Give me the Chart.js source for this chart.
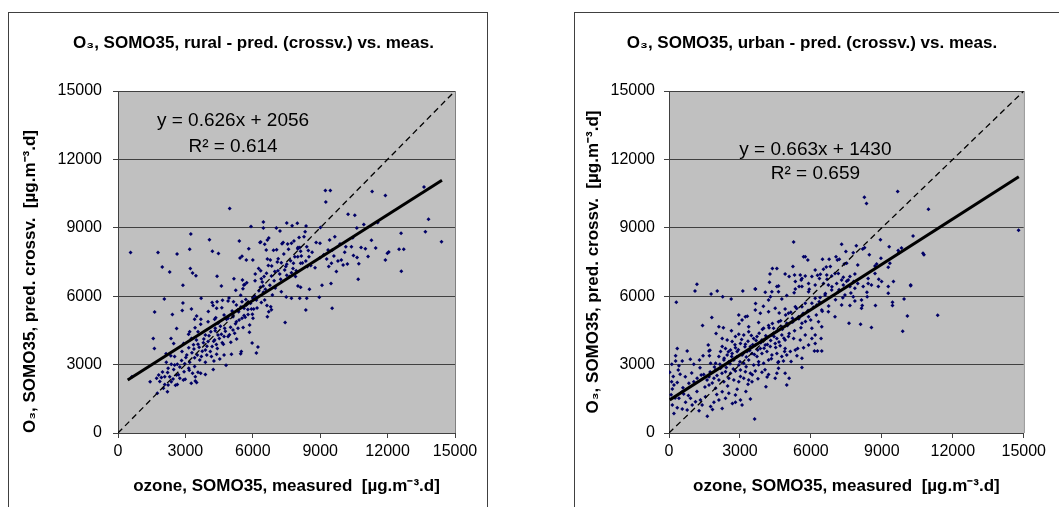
<!DOCTYPE html>
<html>
<head>
<meta charset="utf-8">
<script src="https://cdn.jsdelivr.net/npm/chart.js@4.4.0/dist/chart.umd.min.js"></script>
<style>
  body { margin: 0; background: #fff; width: 1059px; height: 507px; overflow: hidden; position: relative; }
  .frame { position: absolute; top: 12px; height: 520px; border: 1px solid #404040; }
  #ruralFrame { left: 8px; width: 478px; }
  #urbanFrame { left: 574px; width: 520px; }
  canvas { position: absolute; top: 12px; }
  #rural { left: 8px; }
  #urban { left: 574px; }
</style>
</head>
<body>
<div class="frame" id="ruralFrame"></div>
<div class="frame" id="urbanFrame"></div>
<canvas id="rural" width="491" height="495"></canvas>
<canvas id="urban" width="476" height="495"></canvas>
<script>
// measured vs. cross-validated prediction, SOMO35 [µg.m-3.d]
const ruralPoints = [
  [4970, 9850], [9230, 10640], [9450, 10640], [9250, 10130], [11310, 10590], [11900, 10420], [13620, 10790],
  [6470, 9250], [6470, 8990], [5920, 9060], [7510, 9210], [7750, 9090], [7980, 9200], [8370, 9080],
  [7050, 8990], [7210, 8860], [10240, 9590], [10540, 9550], [10940, 9150], [10630, 8990], [11560, 9230],
  [3240, 8730], [4070, 8480], [3190, 8060], [4200, 7970], [4470, 7870], [2630, 7850], [1780, 7920],
  [560, 7920], [1970, 7280], [2300, 7060], [3220, 7220], [3320, 7020], [3470, 6900], [4410, 6870],
  [2890, 6480], [4600, 6450], [5400, 8420], [5820, 8080], [5430, 7680], [5520, 7750], [5710, 7590],
  [6000, 7590], [5160, 6770], [5540, 6710], [5730, 6590], [5640, 6510], [6320, 8350], [6350, 8380],
  [6530, 8280], [6650, 8470], [6710, 8550], [6600, 8030], [6920, 8010], [7060, 8040], [7300, 8300],
  [7350, 8350], [7550, 8290], [7720, 8320], [8000, 8080], [8010, 8140], [8090, 8140], [8130, 7970],
  [8280, 8610], [8400, 8170], [8470, 8000], [6650, 7630], [6780, 7590], [6690, 7350], [7090, 7500],
  [7270, 7470], [7510, 7400], [7810, 7440], [7870, 7730], [8000, 7730], [8160, 7760], [8130, 7440],
  [8360, 7540], [8500, 7730], [8430, 7300], [8580, 7350], [8770, 7250], [6260, 7220], [6350, 7120],
  [6500, 6860], [6110, 6970], [6100, 6680], [6380, 6770], [6830, 6890], [6950, 6680], [7120, 7120],
  [7200, 6970], [7420, 7150], [7510, 6920], [7720, 7030], [7790, 7220], [7630, 6860], [7900, 6860],
  [8990, 8320], [9650, 8610], [9350, 8030], [9540, 8030], [8990, 7690], [9290, 7630], [9380, 7300],
  [9500, 7440], [9720, 7080], [9790, 7540], [9940, 7590], [10020, 7370], [10210, 7410], [10140, 8170],
  [10390, 8170], [10480, 7790], [10640, 7700], [10820, 8140], [11010, 8080], [11280, 8450], [10690, 6740],
  [11900, 7590], [11990, 7880], [12050, 7940], [12510, 8060], [12720, 8060], [12600, 8760], [13680, 8830],
  [13820, 9370], [14400, 8390], [12610, 7090], [9480, 6560], [9080, 6480], [8010, 6450], [8130, 6390],
  [8520, 6300], [7000, 6360], [6460, 6450], [6340, 6390], [5600, 6490],
  [2060, 5880], [1630, 5310], [2890, 5700], [2860, 5370], [3270, 5440], [3700, 5910], [2420, 5200],
  [2610, 4580], [1570, 4140], [1620, 3710], [2360, 4150], [2480, 3930], [4190, 5720], [4410, 5760],
  [4650, 5820], [4230, 5590], [4390, 5470], [4900, 5790], [5140, 5760], [5460, 6040], [5520, 5760],
  [5270, 5610], [5080, 5350], [5370, 5320], [5610, 5470], [5710, 5610], [5820, 5730], [5940, 5440],
  [6040, 5440], [6160, 5830], [6010, 5910], [6470, 6170], [6530, 5830], [6630, 5590], [6800, 5540],
  [6870, 6050], [6710, 5320], [6650, 5100], [6830, 5410], [7270, 6200], [7490, 5970], [7720, 5910],
  [8090, 5910], [8360, 5400], [8400, 5910], [8960, 5950], [9530, 5470], [7440, 4850], [3500, 5130],
  [3410, 4990], [3680, 4770], [4010, 4880], [4300, 4990], [4450, 4810], [4720, 5180], [4900, 5030],
  [5120, 5100], [5270, 4880], [5520, 5030], [5610, 5150], [5790, 5200], [5860, 4740], [6010, 5030],
  [5850, 4420], [5340, 4590], [5120, 4520], [4750, 4590], [3190, 4440], [3560, 4440], [3270, 4150],
  [3490, 4080], [3890, 4300], [4130, 4440], [4330, 4590], [4450, 4300], [4600, 4330], [4720, 4230],
  [4900, 4230], [4300, 4080], [4010, 4010], [3800, 3960], [3560, 3890], [3150, 3740], [3380, 3680],
  [3890, 3640], [4190, 3790], [4420, 3710], [4690, 3890], [5020, 3980], [5280, 4120], [5970, 3950],
  [6230, 3770], [6160, 3510], [5490, 3570], [5460, 3480], [5050, 3450], [4720, 3420], [4390, 3450],
  [4160, 3350], [3950, 3420], [2140, 3480], [2350, 3390], [2520, 3350], [2850, 3570], [3060, 3420],
  [3410, 3300], [3710, 3350], [3640, 3200], [3890, 3100], [4270, 3160], [4530, 3250], [4810, 2970],
  [4240, 2790], [2520, 2980], [2640, 3010], [2750, 2890], [2970, 3040], [3190, 3100], [3150, 2840],
  [2940, 2690], [3410, 2920], [3320, 2620], [3440, 2470], [3680, 2620], [3890, 2570], [3560, 2660],
  [2150, 3100], [2370, 3010], [2230, 2840], [1810, 2540], [1720, 2400], [1930, 2430], [2080, 2470],
  [2300, 2470], [2450, 2370], [2600, 2540], [2750, 2400], [2910, 2320], [2640, 2130], [2370, 2250],
  [2230, 2110], [2080, 2130], [2200, 1810], [2020, 1960], [1750, 1740], [1430, 2250], [620, 2470],
  [3440, 2280], [3500, 2220],
  [2210, 2650], [2480, 2790], [2690, 2560], [2830, 3180], [3020, 3310], [3170, 2750], [3290, 3520],
  [3360, 3870], [3530, 3420], [3610, 3760], [3750, 3590], [3820, 4120], [3960, 3800], [4050, 4270],
  [4110, 3580], [4260, 4020], [4330, 4490], [4380, 3880], [4510, 4140], [4560, 4680], [4640, 3960],
  [4780, 4460], [4830, 4990], [4960, 4310], [5010, 4640], [5090, 5210], [5190, 4380], [5230, 4790],
  [5330, 5390], [5390, 4960], [5470, 5530], [5570, 4630], [5660, 5080], [5690, 5860], [5780, 5420],
  [5900, 5690], [5980, 5210], [6090, 6000], [6190, 5480], [6270, 6240], [6380, 5720], [6420, 6620],
  [6560, 6310], [6610, 7010], [6760, 6480], [6840, 7330], [6980, 7080], [7130, 7640], [7240, 6740],
  [7380, 7850], [7470, 7300], [7590, 8060], [7680, 7560], [7830, 8420], [7930, 7120], [8060, 8570],
  [8210, 7460], [8330, 8830], [8640, 7930], [8820, 8360], [9010, 9010], [9160, 7820], [9420, 8470],
  [9610, 7760], [9880, 8290], [10090, 7930], [10450, 8560], [10720, 7420], [11130, 7740], [11470, 8110],
  [2920, 3920], [3140, 4330], [3430, 4620], [3690, 4990], [4020, 5330], [4350, 5050], [4620, 5490],
  [4940, 5920], [5240, 6260], [5560, 6330], [1980, 2680], [1860, 2260], [2560, 2090], [2990, 2360],
  [3260, 2180]
];

const urbanPoints = [
  [8260, 10340], [8350, 10070], [9670, 10590], [10970, 9810], [14780, 8890], [5270, 8380], [7300, 8280],
  [10320, 8640], [9310, 8170], [8190, 8070], [8270, 8130], [7790, 7910], [9690, 8000], [9830, 8110],
  [9720, 7910], [10740, 7880], [10780, 7820], [8960, 7660], [8780, 7410], [8710, 7320], [9340, 7440],
  [9270, 7270], [5690, 7730], [5760, 7730], [5870, 7590], [5240, 7300], [4560, 7210], [4370, 7210],
  [4270, 6970], [4910, 6970], [5080, 6860], [5310, 6930], [5550, 6930], [5620, 6780], [5760, 6890],
  [6040, 6860], [6180, 7150], [6490, 7620], [6770, 7620], [7120, 7590], [7200, 7620], [7410, 7410],
  [7510, 7440], [6820, 7300], [6530, 7180], [6400, 6960], [6670, 6930], [6880, 6890], [7020, 7000],
  [7160, 7000], [7370, 6830], [7650, 6860], [7860, 6970], [7980, 7370], [6360, 6780], [6680, 6740],
  [7300, 6710], [7580, 6710], [7810, 6640], [7980, 6560], [8420, 6780], [8710, 7000], [8870, 6740],
  [8990, 6640], [8420, 6560], [8560, 6490], [9490, 6640], [10220, 6490], [4250, 6610], [4630, 6450],
  [5340, 6640], [5500, 6420], [5900, 6560], [6180, 6490], [6530, 6560], [6740, 6490], [7090, 6560],
  [7370, 6490], [7650, 6420], [8210, 6420], [9270, 6420], [1180, 6520], [3650, 6320],
  [1100, 6230], [1780, 6100], [2040, 6230], [2270, 5980], [2630, 5880], [3120, 6230], [3650, 6320],
  [4070, 6170], [4350, 6200], [4560, 6420], [4630, 6200], [4770, 5880], [4210, 5830], [5340, 6320],
  [5620, 6420], [5900, 6200], [6180, 5910], [6390, 5940], [6600, 6050], [6880, 6270], [7160, 6200],
  [7440, 6050], [7790, 5980], [8140, 5830], [8370, 6170], [8380, 5980], [7860, 6350], [8850, 6420],
  [9270, 6130], [9450, 5730], [9450, 5590], [9940, 5880], [10220, 6460], [310, 5730], [3650, 5400],
  [3860, 5250], [4210, 5320], [4490, 5470], [4910, 5440], [5050, 5250], [5340, 5540], [5620, 5540],
  [5760, 5690], [6040, 5690], [6250, 5610], [6460, 5400], [6740, 5320], [7020, 5100], [7300, 5610],
  [7650, 5590], [7860, 5790], [8170, 5590], [8140, 5470], [8730, 5590], [7610, 4810], [8100, 4770],
  [8560, 4630], [10080, 5130], [9880, 4460], [11360, 5160], [1810, 5070], [1420, 4720], [2110, 4660],
  [2950, 5180], [3230, 5100], [3090, 4960], [3370, 4660], [3790, 4850], [4000, 4590], [4210, 4710],
  [4420, 4590], [4630, 4880], [4770, 4660], [4980, 4810], [5220, 5030], [5480, 5100], [5620, 4810],
  [5900, 5100], [6040, 4590], [6320, 4880], [6460, 4660], [6180, 4300],
  [2250, 4150], [2460, 4080], [2670, 4010], [2810, 4230], [2950, 4330], [3160, 4300], [3370, 4440],
  [3580, 4150], [3720, 4230], [3930, 4080], [4140, 4180], [4350, 4300], [4560, 4150], [4770, 4300],
  [4910, 4080], [5050, 4230], [5270, 4150], [5550, 4080], [5760, 4300], [6040, 4150], [6430, 4150],
  [6180, 3930], [5900, 3860], [5690, 3740], [5340, 3640], [5130, 3570], [4910, 3710], [4700, 3830],
  [4490, 3930], [4280, 3790], [4070, 3860], [3860, 3710], [3650, 3860], [3440, 3790], [3230, 3890],
  [3020, 3930], [2810, 3740], [2600, 3640], [2390, 3710], [2250, 3790], [2180, 3570], [2460, 3420],
  [2670, 3490], [2880, 3570], [3090, 3420], [3300, 3570], [3510, 3490], [3720, 3350], [3930, 3490],
  [4140, 3570], [4350, 3420], [4560, 3490], [4770, 3350], [4980, 3420], [4840, 3160], [4630, 3130],
  [4210, 3200], [4000, 3060], [3790, 3130], [3580, 2980], [3370, 3200], [3160, 3060], [2950, 2980],
  [2740, 3200], [2530, 3130], [2320, 3200], [2110, 3350], [1970, 3060], [1760, 3060], [1690, 3600],
  [1710, 3390], [5410, 3390], [5620, 3280], [6150, 3600], [6280, 3600], [6460, 3600], [5620, 2870],
  [1970, 2760], [2180, 2840], [2390, 2690], [2600, 2620], [2810, 2720], [3020, 2760], [3230, 2690],
  [3440, 2620], [3650, 2720], [3930, 2660], [4210, 2570], [4630, 2840], [4910, 2620], [5080, 2400],
  [4980, 2110], [4490, 2400], [4100, 2030], [3510, 2250], [3370, 2320], [3160, 2400], [2950, 2250],
  [2740, 2320], [2530, 2400], [2320, 2250], [2110, 2320], [1900, 2400], [1690, 2470], [1470, 2570],
  [1360, 2540], [1190, 2400], [1050, 2250], [840, 2180], [590, 1990], [350, 2220], [210, 2110],
  [140, 1930], [110, 2250], [280, 3160], [420, 2950], [560, 3160], [770, 3600], [280, 3390],
  [900, 3230], [1290, 3200], [1730, 3630], [30, 2660], [390, 2760],
  [1690, 2110], [1970, 1960], [2250, 1810], [2530, 1740], [2810, 1670], [2390, 1520], [2110, 1450],
  [1900, 1350], [1540, 1590], [1330, 1450], [1120, 1370], [910, 1520], [700, 1350], [560, 1050],
  [350, 1110], [140, 1230], [210, 860], [420, 1520], [1400, 1230], [1760, 1160], [2250, 1080],
  [2810, 1350], [3020, 1450], [3440, 1490], [3090, 1230], [3620, 610], [1620, 730], [980, 1230],
  [770, 1010],
  [1520, 2020], [1610, 2330], [1740, 2680], [1830, 2190], [1920, 2900], [2030, 2520], [2150, 3010],
  [2240, 2620], [2330, 3280], [2420, 2870], [2510, 3560], [2580, 3040], [2650, 3360], [2720, 2810],
  [2790, 3870], [2860, 3330], [2930, 3650], [3000, 3130], [3070, 4100], [3140, 3490], [3210, 3780],
  [3270, 3330], [3340, 4020], [3410, 3620], [3480, 4280], [3540, 3870], [3610, 3440], [3680, 4060],
  [3750, 3640], [3810, 4380], [3880, 3960], [3950, 4550], [4020, 3720], [4090, 4260], [4160, 3880],
  [4230, 4620], [4300, 4060], [4370, 4800], [4440, 4230], [4510, 3750], [4580, 4480], [4650, 3990],
  [4720, 4920], [4790, 4550], [4860, 4160], [4930, 5170], [5010, 4710], [5080, 4360], [5150, 5300],
  [5230, 4870], [5310, 4480], [5400, 5460], [5490, 5010], [5580, 4620], [5670, 5240], [5770, 4890],
  [5880, 5370], [5990, 4960], [6110, 5510], [6230, 5180], [6350, 5760], [6480, 5340], [6610, 6120],
  [6750, 5570], [6890, 6410], [7040, 5840], [7190, 6280], [7350, 5930], [7510, 6660], [7690, 6140],
  [3020, 2480], [3260, 2910], [3520, 2560], [3790, 2990], [4060, 2770], [4330, 3260], [4610, 3090],
  [4890, 3580], [5160, 3140], [5440, 3710], [1310, 2860], [1180, 1820], [960, 2630], [820, 1640],
  [690, 2470], [540, 1790], [470, 2580], [1050, 3010], [1440, 3390], [1660, 3860], [1990, 4360],
  [2300, 4620], [2640, 4480], [2960, 4790], [3310, 5120], [3660, 5680], [3990, 5560], [4290, 5980],
  [4660, 5260], [4980, 6030], [5290, 6150], [5590, 6710], [5930, 6300], [6280, 6920], [6650, 7280],
  [7060, 7730], [7480, 7960], [7920, 8210], [8470, 7820], [8940, 8480], [2020, 1690], [2480, 2060],
  [2880, 1920], [3340, 2140], [3760, 2380], [4150, 2460], [4560, 2620], [2680, 1290], [3250, 1820],
  [1840, 1030], [1270, 980], [620, 1710], [260, 1530], [90, 1680], [180, 2480], [120, 3010], [350, 3710]
];

const axisTicks = [0, 3000, 6000, 9000, 12000, 15000];

// Excel-style linear trendlines and their fit statistics
const ruralFit = { slope: 0.626, intercept: 2056, r2: 0.614, from: 430, to: 14420 };
const urbanFit = { slope: 0.663, intercept: 1430, r2: 0.659, from: 30, to: 14790 };

const FONT = "Arial, 'Liberation Sans', sans-serif";

const plotBackground = {
  id: 'plotBackground',
  beforeDraw(chart) {
    const { ctx, chartArea: a } = chart;
    ctx.save();
    ctx.fillStyle = '#c0c0c0';
    ctx.fillRect(a.left, a.top, a.right - a.left, a.bottom - a.top);
    ctx.restore();
  },
  afterDraw(chart) {
    const { ctx, chartArea: a } = chart;
    ctx.save();
    ctx.strokeStyle = '#808080';
    ctx.lineWidth = 1;
    ctx.beginPath();
    ctx.moveTo(a.right + 0.5, a.top);
    ctx.lineTo(a.right + 0.5, a.bottom);
    ctx.stroke();
    ctx.restore();
  }
};

const fitLabel = {
  id: 'fitLabel',
  afterDatasetsDraw(chart, args, opts) {
    const { ctx, scales } = chart;
    const x = scales.x.getPixelForValue(opts.x);
    ctx.save();
    ctx.font = '19px ' + FONT;
    ctx.fillStyle = '#000';
    ctx.textAlign = 'center';
    ctx.textBaseline = 'middle';
    opts.lines.forEach((t, i) => {
      ctx.fillText(t, x, scales.y.getPixelForValue(opts.y[i]));
    });
    ctx.restore();
  }
};

function makeChart(id, points, fit, title, yWidth, padRight, label) {
  const fitLine = [
    { x: fit.from, y: fit.slope * fit.from + fit.intercept },
    { x: fit.to, y: fit.slope * fit.to + fit.intercept }
  ];
  const wide = yWidth > 100;
  return new Chart(document.getElementById(id), {
    type: 'scatter',
    data: {
      datasets: [
        {
          data: fitLine,
          xAxisID: 'x',
          yAxisID: 'y',
          showLine: true,
          borderColor: '#000',
          borderWidth: 3,
          pointRadius: 0,
          order: 0
        },
        {
          data: [{ x: 0, y: 0 }, { x: 15000, y: 15000 }],
          xAxisID: 'x',
          yAxisID: 'y',
          showLine: true,
          borderColor: '#000',
          borderWidth: 1.3,
          borderDash: [6, 4],
          pointRadius: 0,
          order: 1
        },
        {
          data: points.map(p => ({ x: p[0], y: p[1] })),
          xAxisID: 'x',
          yAxisID: 'y',
          pointStyle: 'rectRot',
          pointRadius: 2,
          pointBorderWidth: 0,
          backgroundColor: '#000066',
          borderColor: '#000066',
          order: 2
        }
      ]
    },
    options: {
      responsive: false,
      animation: false,
      layout: { padding: 0 },
      plugins: {
        legend: { display: false },
        tooltip: { enabled: false },
        title: {
          display: true,
          text: title,
          color: '#000',
          font: { family: FONT, size: 17, weight: 'bold' },
          padding: { top: 20.8, bottom: 37.8 }
        },
        fitLabel: label
      },
      scales: {
        x: {
          type: 'linear',
          min: 0,
          max: 15000,
          afterBuildTicks: s => { s.ticks = axisTicks.map(v => ({ value: v })); },
          afterFit: s => { s.height = 74; },
          ticks: {
            color: '#000',
            font: { family: FONT, size: 16 },
            padding: 4,
            maxRotation: 0,
            callback: v => String(v)
          },
          grid: { drawOnChartArea: false, drawTicks: true, tickLength: 5, color: '#404040' },
          border: { color: '#404040' },
          title: {
            display: true,
            text: 'ozone, SOMO35, measured  [µg.m⁻³.d]',
            color: '#000',
            font: { family: FONT, size: 17, weight: 'bold' },
            padding: { top: 0, bottom: 10.8 }
          }
        },
        y: {
          type: 'linear',
          min: 0,
          max: 15000,
          afterBuildTicks: s => { s.ticks = axisTicks.map(v => ({ value: v })); },
          afterFit: s => { s.width = yWidth; },
          ticks: {
            color: '#000',
            font: { family: FONT, size: 16 },
            padding: wide ? 11 : 9,
            callback: v => String(v)
          },
          grid: { color: '#404040', drawTicks: true, tickLength: 5 },
          border: { color: '#404040' },
          title: {
            display: true,
            text: 'O₃, SOMO35, pred. crossv.  [µg.m⁻³.d]',
            align: wide ? 'start' : 'center',
            color: '#000',
            font: { family: FONT, size: 17, weight: 'bold' },
            padding: { top: wide ? 11.8 : 8.8, bottom: 0 }
          }
        },
        // empty right-hand strip so the title stays centred on the whole panel
        side: {
          type: 'linear',
          axis: 'y',
          position: 'right',
          afterFit: s => { s.width = padRight; },
          ticks: { display: false },
          grid: { display: false },
          border: { display: false }
        }
      }
    },
    plugins: [plotBackground, fitLabel]
  });
}

makeChart('rural', ruralPoints, ruralFit, 'O₃, SOMO35, rural - pred. (crossv.) vs. meas.', 110, 44, {
  lines: ['y = ' + ruralFit.slope + 'x + ' + ruralFit.intercept, 'R² = ' + ruralFit.r2],
  x: 5120,
  y: [13680, 12540]
});

makeChart('urban', urbanPoints, urbanFit, 'O₃, SOMO35, urban - pred. (crossv.) vs. meas.', 95, 25, {
  lines: ['y = ' + urbanFit.slope + 'x + ' + urbanFit.intercept, 'R² = ' + urbanFit.r2],
  x: 6190,
  y: [12410, 11360]
});
</script>
</body>
</html>
